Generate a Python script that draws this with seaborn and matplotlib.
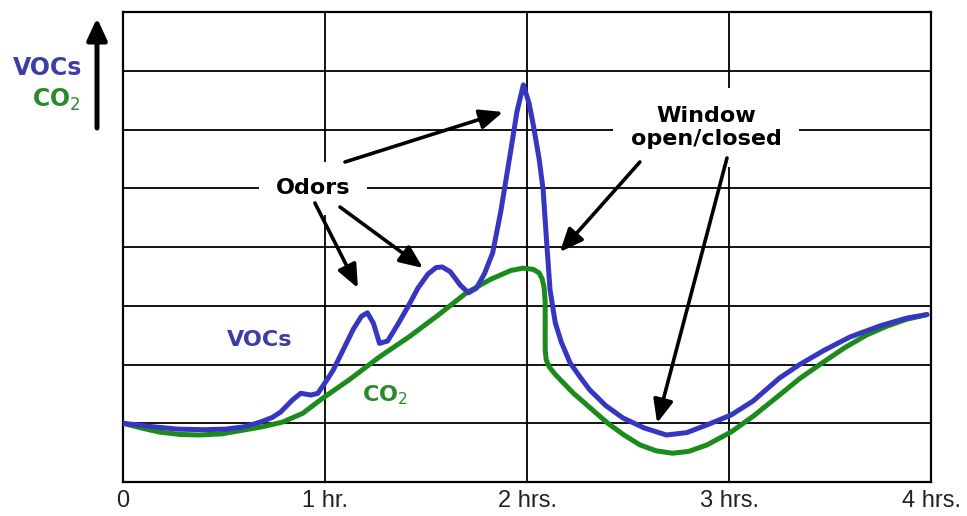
import numpy as np
import pandas as pd
import matplotlib
matplotlib.use("Agg")
import matplotlib.pyplot as plt
import seaborn as sns

# %% data (hours, grid units)
voc_x = [0.00, 0.15, 0.27, 0.40, 0.51, 0.60, 0.68, 0.74, 0.78, 0.84, 0.88, 0.93, 0.965,
         1.01, 1.04, 1.09, 1.14, 1.18, 1.21, 1.24, 1.27, 1.31, 1.36, 1.41, 1.46, 1.51,
         1.55, 1.58, 1.62, 1.67, 1.71, 1.75, 1.79, 1.83, 1.87, 1.92, 1.95, 1.982, 2.01,
         2.03, 2.06, 2.08, 2.095, 2.114, 2.14, 2.17, 2.213, 2.26, 2.31, 2.39, 2.475,
         2.58, 2.69, 2.79, 2.89, 3.01, 3.12, 3.25, 3.35, 3.47, 3.60, 3.75, 3.88, 3.98]
voc_y = [1.00, 0.94, 0.90, 0.89, 0.90, 0.94, 1.02, 1.10, 1.19, 1.40, 1.51, 1.48, 1.51,
         1.74, 1.90, 2.25, 2.60, 2.82, 2.88, 2.70, 2.36, 2.40, 2.68, 2.98, 3.30, 3.54,
         3.65, 3.66, 3.58, 3.35, 3.22, 3.30, 3.55, 3.90, 4.60, 5.65, 6.30, 6.76, 6.45,
         6.10, 5.50, 4.97, 4.20, 3.27, 2.71, 2.38, 2.03, 1.80, 1.57, 1.30, 1.09,
         0.92, 0.80, 0.84, 0.97, 1.14, 1.38, 1.77, 2.00, 2.24, 2.47, 2.66, 2.79, 2.85]

co2_x = [0.00, 0.09, 0.18, 0.28, 0.38, 0.49, 0.59, 0.69, 0.79, 0.89, 0.99, 1.12,
         1.27, 1.42, 1.56, 1.70, 1.82, 1.92, 1.98, 2.03, 2.06, 2.075, 2.085, 2.09, 2.09,
         2.095, 2.11, 2.14, 2.23, 2.31, 2.40, 2.48, 2.56, 2.64, 2.72, 2.80, 2.89, 3.01,
         3.12, 3.25, 3.35, 3.45, 3.57, 3.68, 3.78, 3.88, 3.98]
co2_y = [1.00, 0.92, 0.85, 0.81, 0.80, 0.82, 0.88, 0.94, 1.02, 1.17, 1.43, 1.74,
         2.13, 2.48, 2.84, 3.22, 3.45, 3.60, 3.64, 3.62, 3.56, 3.46, 3.30, 3.05, 2.25,
         2.08, 1.96, 1.83, 1.51, 1.27, 1.00, 0.80, 0.63, 0.53, 0.49, 0.52, 0.63, 0.85,
         1.12, 1.48, 1.76, 2.00, 2.28, 2.50, 2.65, 2.77, 2.85]

hours = [0, 1, 2, 3, 4]
hour_labels = ["0", "1 hr.", "2 hrs.", "3 hrs.", "4 hrs."]

voc_color = "#3636c0"
co2_color = "#1b8c1b"

df = pd.concat([
    pd.DataFrame({"t": voc_x, "v": voc_y, "series": "VOCs"}),
    pd.DataFrame({"t": co2_x, "v": co2_y, "series": "CO2"}),
])

# %% figure
sns.set_style("white")
plt.rcParams["font.family"] = ["DejaVu Sans"]
plt.rcParams["text.color"] = "black"

fig = plt.figure(figsize=(9.67, 5.16), dpi=100)
ax = fig.add_axes([123 / 967, 1 - 482 / 516, 808 / 967, 470 / 516])

sns.lineplot(data=df, x="t", y="v", hue="series", palette={"VOCs": voc_color, "CO2": co2_color},
             hue_order=["CO2", "VOCs"], sort=False, estimator=None, units="series",
             lw=3.6, legend=False, ax=ax, zorder=4)
for ln in ax.get_lines():
    ln.set_solid_joinstyle("round")
    ln.set_solid_capstyle("round")

ax.set_xlim(0, 4)
ax.set_ylim(0, 8)
ax.set_xticks(hours)
ax.set_xticklabels(hour_labels, fontsize=17, family="Liberation Sans", color="#222222")
ax.set_yticks(range(9))
ax.set_yticklabels([])
ax.tick_params(length=0, axis="x", pad=6)
ax.tick_params(length=0, axis="y")
ax.grid(True, color="black", lw=1.3)
ax.set_axisbelow(True)
for s in ax.spines.values():
    s.set_color("black")
    s.set_linewidth(1.6)
ax.set_xlabel("")
ax.set_ylabel("")

# labels with white boxes hiding the grid
ax.text(0.941, 5.0, "Odors", ha="center", va="center", fontsize=16, fontweight="bold",
        color="black", zorder=3, bbox=dict(boxstyle="square,pad=0.75", fc="white", ec="none"))
ax.text(2.886, 6.04, "Window\nopen/closed", ha="center", va="center", fontsize=16,
        fontweight="bold", linespacing=1.2, color="black", zorder=3,
        bbox=dict(boxstyle="square,pad=0.8", fc="white", ec="none"))
ax.text(0.678, 2.42, "VOCs", ha="center", va="center", fontsize=16, fontweight="bold",
        color="#3d3da8", zorder=3)
ax.text(1.297, 1.48, "CO$_2$", ha="center", va="center", fontsize=16, fontweight="bold",
        color="#2a8a2a", zorder=3)

# arrows
arrow_kw = dict(arrowstyle="-|>,head_length=0.7,head_width=0.3", color="black", lw=2.6,
                mutation_scale=20, shrinkA=0, shrinkB=0)
arrows = [((1.099, 5.447), (1.881, 6.298)),
          ((0.950, 4.749), (1.163, 3.302)),
          ((1.074, 4.681), (1.485, 3.643)),
          ((2.559, 5.447), (2.163, 3.915)),
          ((2.990, 5.515), (2.644, 1.004))]
for tail, head in arrows:
    ax.annotate("", xy=head, xytext=tail, arrowprops=arrow_kw, zorder=5)

# y axis legend and arrow
fig.text(82 / 967, 1 - 68 / 516, "VOCs", ha="right", va="center", fontsize=17,
         fontweight="bold", color="#3d3da8")
fig.text(81 / 967, 1 - 100 / 516, "CO$_2$", ha="right", va="center", fontsize=17,
         fontweight="bold", color="#2a8a2a")
ax.annotate("", xy=(97, 498), xytext=(97, 388), xycoords="figure pixels",
            textcoords="figure pixels", annotation_clip=False,
            arrowprops=dict(arrowstyle="-|>,head_length=0.65,head_width=0.3", color="black",
                            lw=3.6, mutation_scale=20, shrinkA=0, shrinkB=0))

fig.savefig("out.png", dpi=100)
